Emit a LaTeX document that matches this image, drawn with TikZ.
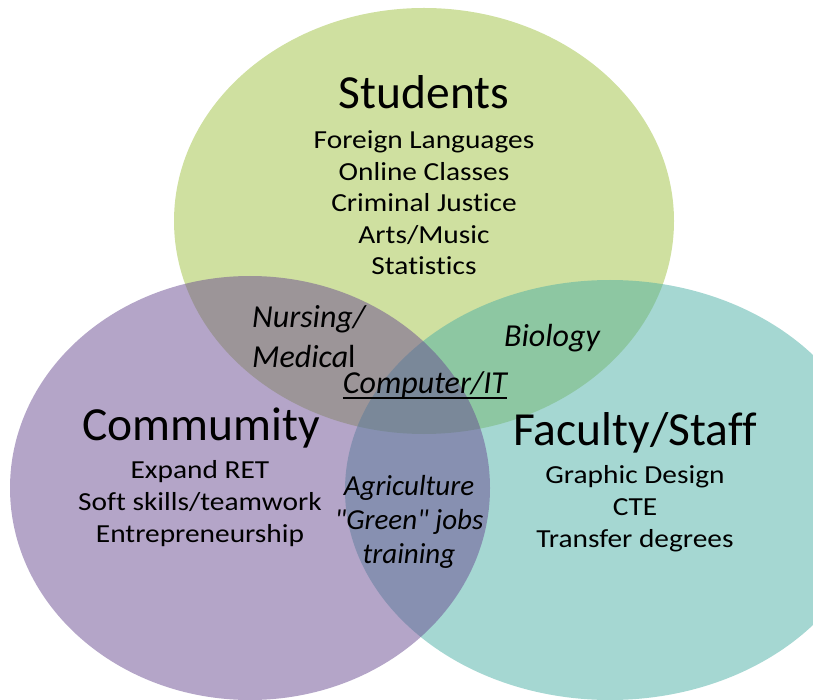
\documentclass[tikz,border=0pt]{standalone}
\usepackage{fontspec}
\setmainfont{Carlito}[Ligatures=NoCommon]
\newfontfamily\listfont{Carlito}[FakeStretch=1.13, Ligatures=NoCommon]
\usetikzlibrary{positioning}
\definecolor{studgreen}{RGB}{159,193,65}
\definecolor{commpurple}{RGB}{105,75,145}
\definecolor{facteal}{RGB}{75,175,165}

\begin{document}
\begin{tikzpicture}[x=1pt, y=-1pt, every node/.style={inner sep=0pt, align=center, anchor=base}]
\tikzset{blob/.style={fill opacity=0.5}}
\tikzset{title/.style={font=\fontsize{47.5}{50}\selectfont}}
\tikzset{items/.style={font=\listfont\fontsize{26}{32}\selectfont}}
\tikzset{overlap/.style={font=\fontsize{32}{40}\selectfont\itshape}}
\useasboundingbox (0,0) rectangle (813,700);
\clip (0,0) rectangle (813,700);
% the three sets
\fill[blob, studgreen] (424,221) ellipse [x radius=250, y radius=213];
\fill[blob, facteal] (610,490) ellipse [x radius=265, y radius=210];
\fill[blob, commpurple] (250,488) ellipse [x radius=240, y radius=212];
% titles and lists (base = last line)
\node[title] (stud) at (424,109) {Students};
\node[items, below=166pt of stud.base, anchor=base, font=\listfont\fontsize{26}{31.5}\selectfont] (studlist) {Foreign Languages\\Online Classes\\Criminal Justice\\Arts/Music\\Statistics};
\node[title] (comm) at (201,440) {Commumity};
\node[items, below=102pt of comm.base, anchor=base, xshift=-1pt] (commlist) {Expand RET\\Soft skills/teamwork\\Entrepreneurship};
\node[title] (fac) at (635,445) {Faculty/Staff};
\node[items, below=102pt of fac.base, anchor=base] (faclist) {Graphic Design\\CTE\\Transfer degrees};
% overlaps
\node[overlap, align=left, anchor=base west] (nurse) at (252,367) {Nursing/\\Medica\upshape l};
\node[overlap] (bio) at (552,346) {Biology};
\node[overlap] (comp) at (425,393) {Computer/IT};
\draw[line width=1.8pt] ([yshift=-5pt]comp.base west) -- ([yshift=-5pt]comp.base east);
\node[overlap, font=\fontsize{29}{34}\selectfont\itshape] (agri) at (409,563) {Agriculture\\\textquotedbl Green\textquotedbl{} jobs\\training};
\end{tikzpicture}
\end{document}
